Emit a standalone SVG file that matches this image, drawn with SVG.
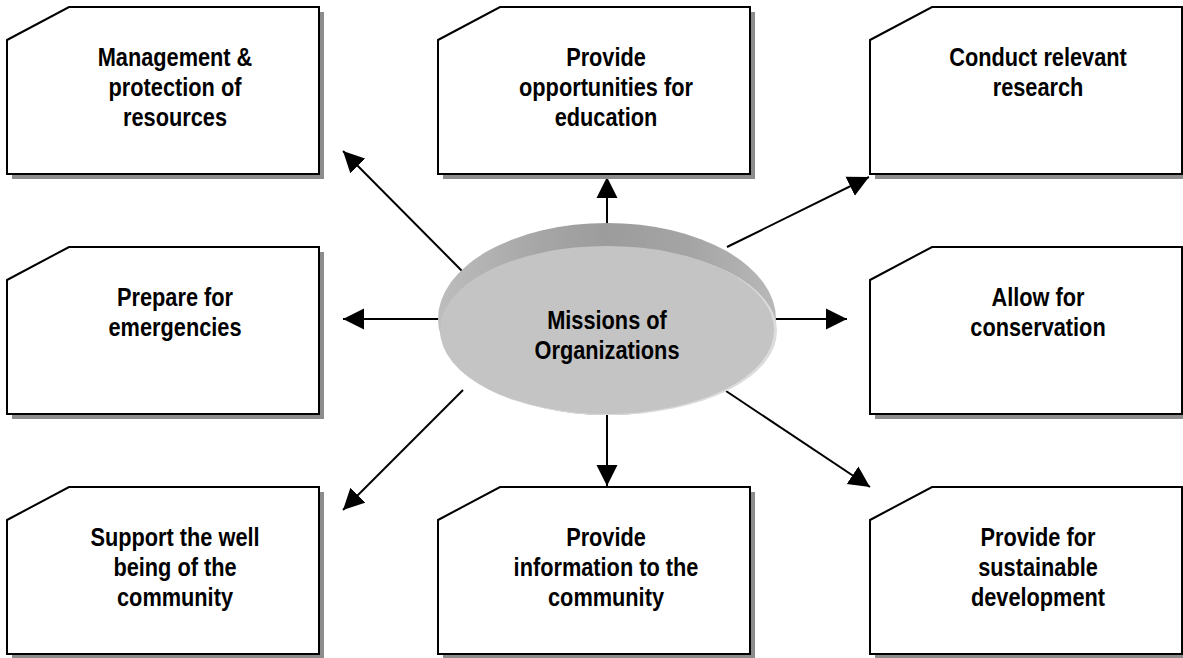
<svg xmlns="http://www.w3.org/2000/svg" width="1183" height="658" viewBox="0 0 1183 658">
  <style>
    .shadow { fill: #8c8c8c; }
    .box { fill: #ffffff; stroke: #000000; stroke-width: 2; stroke-linejoin: miter; }
    .t { font-family: "Liberation Sans", Arial, sans-serif; font-weight: bold; font-size: 25px; fill: #000000; text-anchor: middle; }
    .conn { stroke: #000000; stroke-width: 2; fill: none; marker-end: url(#arrow); }
  </style>
  <defs>
    <marker id="arrow" markerUnits="userSpaceOnUse" markerWidth="23" markerHeight="22" refX="21" refY="11" orient="auto">
      <path d="M0,0.5 L21,11 L0,21.5 Z" fill="#000000"/>
    </marker>
    <linearGradient id="rim" x1="0" y1="0" x2="1" y2="0">
      <stop offset="0" stop-color="#bdbdbd"/>
      <stop offset="0.3" stop-color="#a6a6a6"/>
      <stop offset="0.5" stop-color="#9c9c9c"/>
      <stop offset="0.75" stop-color="#a5a5a5"/>
      <stop offset="1" stop-color="#b8b8b8"/>
    </linearGradient>
    <!-- chamfered card outline, drawn at origin -->
    <path id="card" d="M0,33 L62,0 L312,0 L312,167 L0,167 Z"/>
  </defs>

  <rect width="1183" height="658" fill="#ffffff"/>

  <!-- connectors from the hub to each card -->
  <g id="connectors">
    <line class="conn" x1="463" y1="272" x2="343" y2="151"/>
    <line class="conn" x1="607" y1="223" x2="607" y2="177"/>
    <line class="conn" x1="727" y1="247" x2="869" y2="177"/>
    <line class="conn" x1="440" y1="319" x2="343" y2="319"/>
    <line class="conn" x1="774" y1="319" x2="847" y2="319"/>
    <line class="conn" x1="463" y1="390" x2="343" y2="510"/>
    <line class="conn" x1="607" y1="415" x2="607" y2="486"/>
    <line class="conn" x1="726" y1="391" x2="870" y2="487"/>
  </g>

  <!-- hub: raised disc -->
  <g id="hub">
    <ellipse cx="607" cy="319" rx="169" ry="96" fill="url(#rim)"/>
    <ellipse cx="609" cy="331" rx="168" ry="84" fill="#dcdcdc"/>
    <ellipse cx="607" cy="330" rx="167" ry="84" fill="#c4c4c4"/>
    <text class="t" transform="matrix(0.87 0 0 1 607 0)"><tspan x="0" y="329">Missions of</tspan><tspan x="0" y="359">Organizations</tspan></text>
  </g>

  <g id="card-management">
    <use href="#card" class="shadow" x="12" y="12"/>
    <use href="#card" class="box" x="7" y="7"/>
    <text class="t" transform="matrix(0.87 0 0 1 175 0)"><tspan x="0" y="66">Management &amp;</tspan><tspan x="0" y="96">protection of</tspan><tspan x="0" y="126">resources</tspan></text>
  </g>

  <g id="card-education">
    <use href="#card" class="shadow" x="443" y="12"/>
    <use href="#card" class="box" x="438" y="7"/>
    <text class="t" transform="matrix(0.87 0 0 1 606 0)"><tspan x="0" y="66">Provide</tspan><tspan x="0" y="96">opportunities for</tspan><tspan x="0" y="126">education</tspan></text>
  </g>

  <g id="card-research">
    <use href="#card" class="shadow" x="875" y="12"/>
    <use href="#card" class="box" x="870" y="7"/>
    <text class="t" transform="matrix(0.87 0 0 1 1038 0)"><tspan x="0" y="66">Conduct relevant</tspan><tspan x="0" y="96">research</tspan></text>
  </g>

  <g id="card-emergencies">
    <use href="#card" class="shadow" x="12" y="252"/>
    <use href="#card" class="box" x="7" y="247"/>
    <text class="t" transform="matrix(0.87 0 0 1 175 0)"><tspan x="0" y="306">Prepare for</tspan><tspan x="0" y="336">emergencies</tspan></text>
  </g>

  <g id="card-conservation">
    <use href="#card" class="shadow" x="875" y="252"/>
    <use href="#card" class="box" x="870" y="247"/>
    <text class="t" transform="matrix(0.87 0 0 1 1038 0)"><tspan x="0" y="306">Allow for</tspan><tspan x="0" y="336">conservation</tspan></text>
  </g>

  <g id="card-wellbeing">
    <use href="#card" class="shadow" x="12" y="492"/>
    <use href="#card" class="box" x="7" y="487"/>
    <text class="t" transform="matrix(0.87 0 0 1 175 0)"><tspan x="0" y="546">Support the well</tspan><tspan x="0" y="576">being of the</tspan><tspan x="0" y="606">community</tspan></text>
  </g>

  <g id="card-information">
    <use href="#card" class="shadow" x="443" y="492"/>
    <use href="#card" class="box" x="438" y="487"/>
    <text class="t" transform="matrix(0.87 0 0 1 606 0)"><tspan x="0" y="546">Provide</tspan><tspan x="0" y="576">information to the</tspan><tspan x="0" y="606">community</tspan></text>
  </g>

  <g id="card-sustainable">
    <use href="#card" class="shadow" x="875" y="492"/>
    <use href="#card" class="box" x="870" y="487"/>
    <text class="t" transform="matrix(0.87 0 0 1 1038 0)"><tspan x="0" y="546">Provide for</tspan><tspan x="0" y="576">sustainable</tspan><tspan x="0" y="606">development</tspan></text>
  </g>
</svg>
